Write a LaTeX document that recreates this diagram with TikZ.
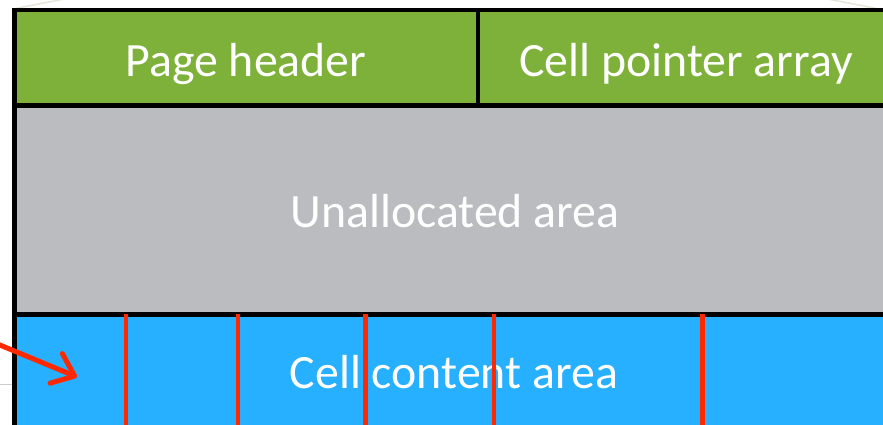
\documentclass[tikz,border=0pt]{standalone}
\usepackage{fontspec}
\setmainfont{Carlito}
\usetikzlibrary{arrows.meta}
\newlength{\du}
\setlength{\du}{15\unitlength}

\begin{document}
\begin{tikzpicture}[pagetext/.style={anchor=base,text=white,inner sep=0pt,font=\fontsize{47.8}{56}\selectfont},
  redline/.style={draw=cellred,line width=0.300000\du}]
\pgftransformxscale{1.000000}
\pgftransformyscale{-1.000000}
\definecolor{cellred}{rgb}{1.000000, 0.156863, 0.000000}
\clip (0.000000\du,0.000000\du) rectangle (58.866667\du,28.266667\du);
% slide background
\begin{scope}
\clip (1.000000\du,0.000000\du) rectangle (58.866667\du,2.000000\du);
\definecolor{dialinecolor}{rgb}{0.905882, 0.898039, 0.850980}
\pgfsetstrokecolor{dialinecolor}
\pgfsetlinewidth{0.100000\du}
\draw (29.733333\du,139.533333\du) circle (141.866667\du);
\end{scope}
\definecolor{dialinecolor}{rgb}{0.800000, 0.800000, 0.800000}
\pgfsetstrokecolor{dialinecolor}
\pgfsetlinewidth{0.066667\du}
\draw (0.000000\du,25.600000\du)--(0.800000\du,25.600000\du);
% areas
\definecolor{dialinecolor}{rgb}{0.490196, 0.694118, 0.227451}
\pgfsetfillcolor{dialinecolor}
\fill (0.950000\du,0.666667\du) rectangle (59.600000\du,7.033333\du);
\definecolor{dialinecolor}{rgb}{0.733333, 0.737255, 0.752941}
\pgfsetfillcolor{dialinecolor}
\fill (0.950000\du,7.033333\du) rectangle (59.600000\du,20.950000\du);
\definecolor{dialinecolor}{rgb}{0.149020, 0.690196, 1.000000}
\pgfsetfillcolor{dialinecolor}
\fill (0.950000\du,20.950000\du) rectangle (59.600000\du,29.066667\du);
\definecolor{dialinecolor}{rgb}{0.000000, 0.000000, 0.000000}
\pgfsetstrokecolor{dialinecolor}
\pgfsetlinewidth{0.300000\du}
\pgfsetmiterjoin
\draw (0.950000\du,0.666667\du) rectangle (59.600000\du,29.066667\du);
\draw (0.950000\du,7.033333\du)--(59.600000\du,7.033333\du);
\draw (0.950000\du,20.950000\du)--(59.600000\du,20.950000\du);
\draw (31.853333\du,0.666667\du)--(31.853333\du,7.033333\du);
% setfont left to latex
\node[pagetext] (pghdr) at (16.400000\du,5.066667\du){Page header};
\node[pagetext] (cptr) at (45.733333\du,5.066667\du){Cell pointer array};
\node[pagetext] (unalloc) at (30.333333\du,15.180000\du){Unallocated area};
\node[pagetext] (cellarea) at (30.266667\du,25.866667\du){Cell content area};
% cell boundaries
\draw[redline] (8.393333\du,20.933333\du)--(8.393333\du,29.066667\du);
\draw[redline] (15.866667\du,20.933333\du)--(15.866667\du,29.066667\du);
\draw[redline] (24.380000\du,20.933333\du)--(24.380000\du,29.066667\du);
\draw[redline] (32.933333\du,20.933333\du)--(32.933333\du,29.066667\du);
\draw[redline] (46.820000\du,20.933333\du)--(46.820000\du,29.066667\du);
\coordinate (arrstart) at (-0.333333\du,22.866667\du);
\coordinate (arrtip) at (5.133333\du,25.133333\du);
\draw[draw=cellred,line width=0.333333\du,-{Straight Barb[length=20pt,width=32pt,round]}] (arrstart)--(arrtip);
\end{tikzpicture}
\end{document}
